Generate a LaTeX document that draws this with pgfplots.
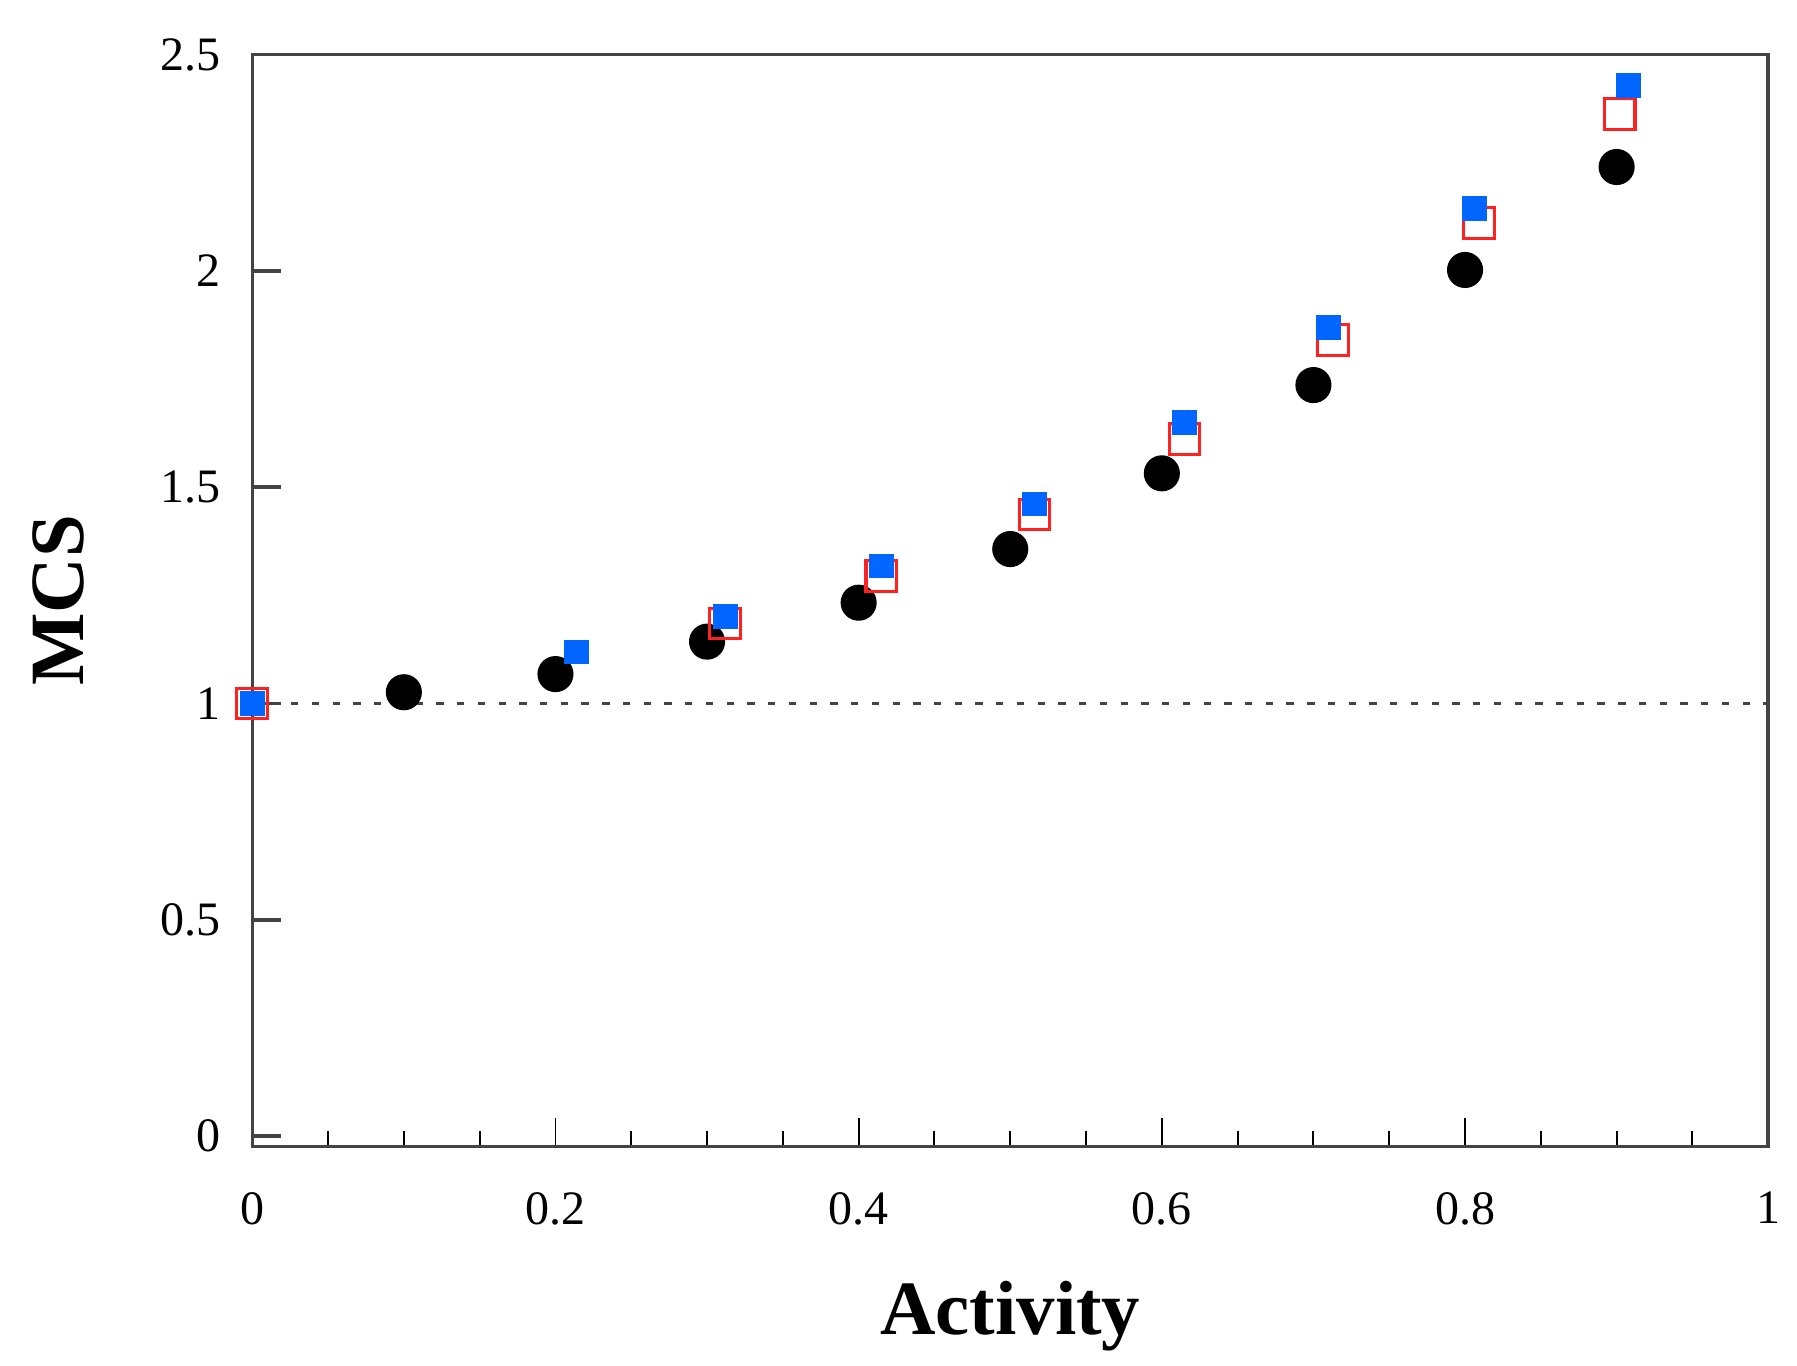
\documentclass[border=0pt]{standalone}
\usepackage{pgfplots}
\pgfplotsset{compat=1.18}
\usepackage{fontspec}
\setmainfont{Liberation Serif}
\definecolor{axgray}{HTML}{444444}
\definecolor{mblue}{HTML}{0066FF}
\definecolor{mred}{HTML}{FF2020}
\begin{document}
\fontsize{12.5pt}{15pt}\selectfont
\begin{tikzpicture}
\useasboundingbox (-65.7pt,-57pt) rectangle (402.3pt,298.6pt);
\begin{axis}[
  at={(0pt,0pt)}, anchor=south west,
  width=394.8pt, height=284.4pt,
  scale only axis,
  xmin=0, xmax=1, ymin=-0.024, ymax=2.5,
  axis line style={axgray, line width=0.9pt},
  xtick={0,0.2,0.4,0.6,0.8,1},
  xticklabels={0,0.2,0.4,0.6,0.8,1},
  minor xtick={0.05,0.1,0.15,0.25,0.3,0.35,0.45,0.5,0.55,0.65,0.7,0.75,0.85,0.9,0.95},
  ytick={0,0.5,1,1.5,2,2.5},
  yticklabels={0,0.5,1,1.5,2,2.5},
  xtick pos=bottom, ytick pos=left,
  tick align=inside,
  major tick length=7.5pt, minor tick length=4pt,
  xtick style={black, line width=0.5pt},
  ytick style={axgray, line width=0.9pt},
  every tick label/.append style={font=\fontsize{12.5pt}{15pt}\selectfont},
  xticklabel style={yshift=-7.5pt},
  yticklabel style={xshift=-4pt},
  xlabel={\textbf{Activity}},
  ylabel={\textbf{MCS}},
  xlabel style={font=\fontsize{20pt}{24pt}\selectfont, at={(axis description cs:0.5,-0.155)}, anchor=center},
  ylabel style={font=\fontsize{20pt}{24pt}\selectfont, at={(axis description cs:-0.128,0.5)}, anchor=center, rotate=0},
  clip=false,
]
\addplot[axgray, line width=0.7pt, dash pattern=on 1.9pt off 3.5pt, forget plot] coordinates {(0.012,1.0) (1,1.0)};
\addplot[only marks, mark=*, mark size=4.5pt, mark options={fill=black, draw=black}] coordinates {
(0.1,1.026) (0.2,1.068) (0.3,1.143) (0.4,1.233) (0.5,1.357) (0.6,1.532) (0.7,1.736) (0.8,2.002) (0.9,2.240)};
\addplot[only marks, mark=square, mark size=4.0pt, mark options={draw=mred, line width=0.8pt, fill=white}] coordinates {
(0,1.0) (0.312,1.185) (0.415,1.294) (0.516,1.437) (0.615,1.612) (0.713,1.840) (0.809,2.110) (0.902,2.362)};
\addplot[only marks, mark=square*, mark size=3.1pt, mark options={draw=mblue, fill=mblue, line width=0pt}] coordinates {
(0,1.0) (0.214,1.119) (0.312,1.201) (0.415,1.318) (0.516,1.461) (0.615,1.649) (0.710,1.869) (0.806,2.145) (0.908,2.428)};
\end{axis}
\end{tikzpicture}
\end{document}
